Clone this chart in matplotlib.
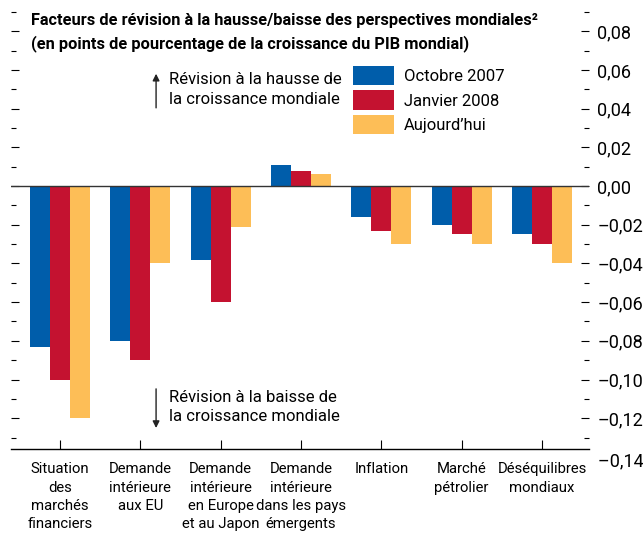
import numpy as np
import matplotlib
matplotlib.use('Agg')
import matplotlib.pyplot as plt
from matplotlib.ticker import MultipleLocator, FuncFormatter

plt.rcParams['font.family'] = ['Roboto', 'DejaVu Sans']

# Data
categories = ['Situation\ndes\nmarchés\nfinanciers', 'Demande\nintérieure\naux EU',
              'Demande\nintérieure\nen Europe\net au Japon', 'Demande\nintérieure\ndans les pays\némergents',
              'Inflation', 'Marché\npétrolier', 'Déséquilibres\nmondiaux']
series_names = ['Octobre 2007', 'Janvier 2008', "Aujourd’hui"]
oct_2007 = [-0.083, -0.080, -0.038, 0.011, -0.016, -0.020, -0.025]
jan_2008 = [-0.100, -0.090, -0.060, 0.008, -0.023, -0.025, -0.030]
today = [-0.120, -0.040, -0.021, 0.006, -0.030, -0.030, -0.040]
colors = ['#005DAA', '#C41230', '#FDBE57']

fig = plt.figure(figsize=(6.43, 5.44), dpi=100)
ax = fig.add_axes([0.0166, 0.1754, 0.8994, 0.8026])

x = np.arange(len(categories))
w = 0.25
for i, (vals, c, name) in enumerate(zip([oct_2007, jan_2008, today], colors, series_names)):
    ax.bar(x + (i - 1) * w, vals, width=w, color=c, label=name, zorder=2)

ax.axhline(0, color='#333333', lw=1.0, zorder=3)

ax.set_xlim(-0.614, 6.585)
ax.set_ylim(-0.1357, 0.09)

for s in ['top', 'left', 'right']:
    ax.spines[s].set_visible(False)
ax.spines['bottom'].set_linewidth(1.0)

ax.set_xticks(x)
ax.set_xticklabels(categories, fontsize=10.7, linespacing=1.37)
ax.tick_params(axis='x', direction='in', length=6.5, width=0.8, pad=10)

ax.yaxis.set_major_locator(MultipleLocator(0.02))
ax.yaxis.set_minor_locator(MultipleLocator(0.01))
ax.yaxis.set_major_formatter(FuncFormatter(lambda v, p: ('%.2f' % v).replace('.', ',').replace('-', '–')))
ax.tick_params(axis='y', which='both', direction='in', left=True, right=True,
               labelleft=False, labelright=True, width=0.8, labelsize=13, pad=6)
ax.tick_params(axis='y', which='major', length=6)
ax.tick_params(axis='y', which='minor', length=3.5)

# -0,14 label sits just below the axis line
ax.text(1.0, -0.1425, '  –0,14', transform=ax.get_yaxis_transform(), fontsize=13,
        va='center', ha='left', clip_on=False)

fig.text(0.048, 1 - 32.5 / 544, 'Facteurs de révision à la hausse/baisse des perspectives mondiales²\n'
         '(en points de pourcentage de la croissance du PIB mondial)',
         fontsize=11.8, fontweight='bold', va='center', ha='left', linespacing=1.55)

ax.legend(loc='upper left', bbox_to_anchor=(353 / 643, 1 - 66 / 544), bbox_transform=fig.transFigure,
          frameon=False, fontsize=12, handlelength=2.45, handleheight=1.42,
          handletextpad=0.6, labelspacing=0.3, borderpad=0, borderaxespad=0)

ax.annotate('', xy=(1.196, 0.0595), xytext=(1.196, 0.039),
            arrowprops=dict(arrowstyle='-|>', color='#222222', lw=1, mutation_scale=10))
ax.text(1.36, 0.0499, 'Révision à la hausse de\nla croissance mondiale', fontsize=12,
        va='center', ha='left', linespacing=1.4)
ax.annotate('', xy=(1.196, -0.1265), xytext=(1.196, -0.1034),
            arrowprops=dict(arrowstyle='-|>', color='#222222', lw=1, mutation_scale=10))
ax.text(1.36, -0.1142, 'Révision à la baisse de\nla croissance mondiale', fontsize=12,
        va='center', ha='left', linespacing=1.4)

fig.savefig('out.png', dpi=100)
